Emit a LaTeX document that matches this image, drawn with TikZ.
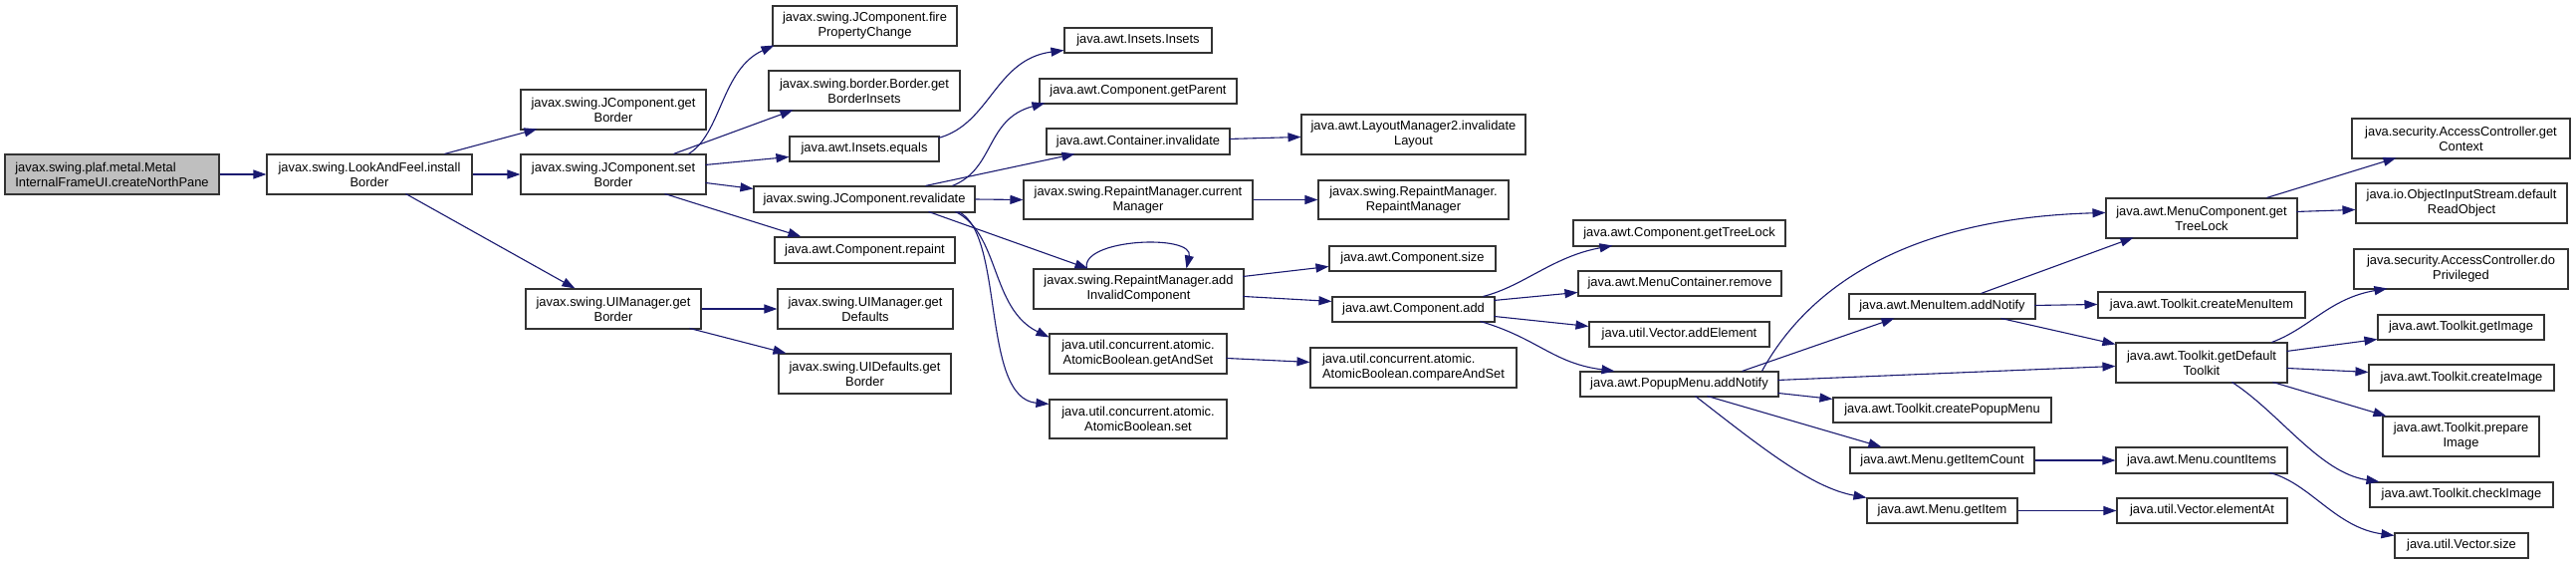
\documentclass[tikz,border=0pt]{standalone}
\usepackage{fontspec}
\setmainfont{Liberation Sans}
\usetikzlibrary{arrows.meta}
\definecolor{edgec}{HTML}{191970}
\definecolor{rootfill}{HTML}{BFBFBF}
\tikzset{
  nbox/.style={draw=black!80, line width=1.1pt, rectangle, inner sep=0pt, align=center,
    font=\fontsize{12.9}{15}\selectfont},
  callarrow/.style={draw=edgec, line width=1.1pt, -{Triangle[length=13pt,width=9pt]}},
}
\newcommand\mknode[7][]{\node[nbox,#1,minimum width={(#5)-(#3)},minimum height={(#6)-(#4)}] (#2) at ({((#3)+(#5))/2},{((#4)+(#6))/2}) {#7};}
\begin{document}
\begin{tikzpicture}[x=1pt,y=-1pt]
\fill[white] (0,0) rectangle (2587,566);
\useasboundingbox (0,0) rectangle (2587,566);

\mknode[fill=rootfill,align=left]{root}{5}{155}{220}{195}{javax.swing.plaf.metal.Metal\\InternalFrameUI.createNorthPane}
\mknode{inst}{268}{155}{474}{195}{javax.swing.LookAndFeel.install\\Border}
\mknode{jgb}{523}{90}{709}{130}{javax.swing.JComponent.get\\Border}
\mknode{jsb}{523}{155}{709}{195}{javax.swing.JComponent.set\\Border}
\mknode{uigb}{528}{290}{704}{330}{javax.swing.UIManager.get\\Border}
\mknode{fpc}{776}{6}{961}{46}{javax.swing.JComponent.fire\\PropertyChange}
\mknode{bgi}{772}{71}{964}{111}{javax.swing.border.Border.get\\BorderInsets}
\mknode{ieq}{793}{137}{943}{162}{java.awt.Insets.equals}
\mknode{rev}{757}{187}{979}{213}{javax.swing.JComponent.revalidate}
\mknode{crep}{778}{238}{959}{264}{java.awt.Component.repaint}
\mknode{uigd}{781}{290}{957}{330}{javax.swing.UIManager.get\\Defaults}
\mknode{uidgb}{782}{355}{955}{395}{javax.swing.UIDefaults.get\\Border}
\mknode{ins}{1069}{28}{1217}{53}{java.awt.Insets.Insets}
\mknode{gpar}{1044}{79}{1242}{104}{java.awt.Component.getParent}
\mknode{cinv}{1051}{129}{1235}{155}{java.awt.Container.invalidate}
\mknode{rmcm}{1028}{181}{1258}{220}{javax.swing.RepaintManager.current\\Manager}
\mknode{raic}{1038}{270}{1249}{310}{javax.swing.RepaintManager.add\\InvalidComponent}
\mknode{gas}{1054}{335}{1232}{375}{java.util.concurrent.atomic.\\AtomicBoolean.getAndSet}
\mknode{abset}{1054}{401}{1232}{440}{java.util.concurrent.atomic.\\AtomicBoolean.set}
\mknode{lm2}{1307}{115}{1532}{155}{java.awt.LayoutManager2.invalidate\\Layout}
\mknode{rmrm}{1324}{181}{1515}{220}{javax.swing.RepaintManager.\\RepaintManager}
\mknode{csize}{1335}{247}{1502}{272}{java.awt.Component.size}
\mknode{cadd}{1338}{298}{1501}{323}{java.awt.Component.add}
\mknode[align=left]{cas}{1316}{349}{1523}{389}{java.util.concurrent.atomic.\\AtomicBoolean.compareAndSet}
\mknode{gtl}{1580}{221}{1793}{247}{java.awt.Component.getTreeLock}
\mknode{mcr}{1585}{272}{1789}{297}{java.awt.MenuContainer.remove}
\mknode{vae}{1596}{323}{1777}{348}{java.util.Vector.addElement}
\mknode{pman}{1587}{373}{1786}{398}{java.awt.PopupMenu.addNotify}
\mknode{mian}{1857}{295}{2044}{320}{java.awt.MenuItem.addNotify}
\mknode{tcpm}{1841}{399}{2060}{424}{java.awt.Toolkit.createPopupMenu}
\mknode{mgic}{1858}{449}{2043}{475}{java.awt.Menu.getItemCount}
\mknode{mgi}{1875}{500}{2026}{525}{java.awt.Menu.getItem}
\mknode{mcgtl}{2115}{199}{2307}{239}{java.awt.MenuComponent.get\\TreeLock}
\mknode{tcmi}{2107}{293}{2315}{319}{java.awt.Toolkit.createMenuItem}
\mknode{tgdt}{2125}{344}{2297}{384}{java.awt.Toolkit.getDefault\\Toolkit}
\mknode{mci}{2125}{449}{2297}{475}{java.awt.Menu.countItems}
\mknode{vea}{2126}{500}{2297}{525}{java.util.Vector.elementAt}
\mknode{acgc}{2362}{119}{2581}{159}{java.security.AccessController.get\\Context}
\mknode{oisd}{2366}{184}{2578}{224}{java.io.ObjectInputStream.default\\ReadObject}
\mknode{acdp}{2364}{250}{2579}{290}{java.security.AccessController.do\\Privileged}
\mknode{tgi}{2388}{316}{2555}{341}{java.awt.Toolkit.getImage}
\mknode{tci}{2379}{366}{2565}{392}{java.awt.Toolkit.createImage}
\mknode{tpi}{2393}{418}{2550}{458}{java.awt.Toolkit.prepare\\Image}
\mknode{tchk}{2380}{484}{2564}{509}{java.awt.Toolkit.checkImage}
\mknode{vsz}{2405}{535}{2539}{560}{java.util.Vector.size}

% connectors
\draw[callarrow] (root.east) -- (inst.west);
\draw[callarrow] ([shift={(179,0)}]inst.north west) -- ([shift={(17,40)}]jgb.north west);
\draw[callarrow] (inst.east) -- (jsb.west);
\draw[callarrow] ([shift={(140,40)}]inst.north west) -- ([shift={(50,0)}]uigb.north west);
\draw[callarrow] (uigb.east) -- (uigd.west);
\draw[callarrow] ([shift={(165,40)}]uigb.north west) -- ([shift={(8,0)}]uidgb.north west);

\draw[callarrow] ([shift={(169,0)}]jsb.north west) .. controls +(33,-20) and +(-53,24) .. ([shift={(2,40)}]fpc.north west);
\draw[callarrow] ([shift={(154,0)}]jsb.north west) -- ([shift={(25,40)}]bgi.north west);
\draw[callarrow] ([shift={(186,11)}]jsb.north west) -- ([shift={(0,21)}]ieq.north west);
\draw[callarrow] ([shift={(186,29)}]jsb.north west) -- ([shift={(0,3)}]rev.north west);
\draw[callarrow] ([shift={(145,40)}]jsb.north west) -- ([shift={(27,0)}]crep.north west);

\draw[callarrow] ([shift={(150,2)}]ieq.north west) .. controls +(52,-14) and +(-69,9) .. ([shift={(0,23)}]ins.north west);

\draw[callarrow] ([shift={(200,0)}]rev.north west) .. controls +(43,-17) and +(-60,16) .. ([shift={(6,25)}]gpar.north west);
\draw[callarrow] ([shift={(173,0)}]rev.north west) -- ([shift={(29,26)}]cinv.north west);
\draw[callarrow] (rev.east) -- (rmcm.west);
\draw[callarrow] ([shift={(176,26)}]rev.north west) -- ([shift={(55,0)}]raic.north west);
\draw[callarrow] ([shift={(203,26)}]rev.north west) .. controls +(45,22) and +(-59,-29) .. ([shift={(0,4)}]gas.north west);
\draw[callarrow] ([shift={(206,26)}]rev.north west) .. controls +(47,22) and +(-69,-6) .. ([shift={(0,5)}]abset.north west);

\draw[callarrow] ([shift={(184,11)}]cinv.north west) -- ([shift={(0,23)}]lm2.north west);
\draw[callarrow] (rmcm.east) -- (rmrm.west);
\draw[callarrow] ([shift={(54,0)}]raic.north west) .. controls +(-7,-30) and +(8,-35) .. ([shift={(154,0)}]raic.north west);
\draw[callarrow] ([shift={(211,8)}]raic.north west) -- ([shift={(0,21)}]csize.north west);
\draw[callarrow] ([shift={(211,28)}]raic.north west) -- ([shift={(0,5)}]cadd.north west);
\draw[callarrow] ([shift={(178,25)}]gas.north west) -- ([shift={(0,15)}]cas.north west);

\draw[callarrow] ([shift={(152,0)}]cadd.north west) .. controls +(40,-10) and +(-60,11) .. ([shift={(40,26)}]gtl.north west);
\draw[callarrow] ([shift={(163,4)}]cadd.north west) -- ([shift={(0,22)}]mcr.north west);
\draw[callarrow] ([shift={(163,20)}]cadd.north west) -- ([shift={(0,5)}]vae.north west);
\draw[callarrow] ([shift={(149,25)}]cadd.north west) .. controls +(58,17) and +(-62,-8) .. ([shift={(35,0)}]pman.north west);

\draw[callarrow] ([shift={(183,0)}]pman.north west) .. controls +(40,-73) and +(-215,6) .. ([shift={(0,15)}]mcgtl.north west);
\draw[callarrow] ([shift={(163,0)}]pman.north west) -- ([shift={(46,25)}]mian.north west);
\draw[callarrow] ([shift={(199,9)}]pman.north west) -- ([shift={(0,24)}]tgdt.north west);
\draw[callarrow] ([shift={(199,22)}]pman.north west) -- ([shift={(0,2)}]tcpm.north west);
\draw[callarrow] ([shift={(128,25)}]pman.north west) -- ([shift={(32,0)}]mgic.north west);
\draw[callarrow] ([shift={(116,25)}]pman.north west) .. controls +(67,52) and +(-55,-10) .. ([shift={(0,0)}]mgi.north west);

\draw[callarrow] ([shift={(133,0)}]mian.north west) -- ([shift={(28,40)}]mcgtl.north west);
\draw[callarrow] ([shift={(187,12)}]mian.north west) -- ([shift={(0,13)}]tcmi.north west);
\draw[callarrow] ([shift={(153,25)}]mian.north west) -- ([shift={(0,2)}]tgdt.north west);
\draw[callarrow] (mgic.east) -- (mci.west);
\draw[callarrow] (mgi.east) -- (vea.west);

\draw[callarrow] ([shift={(162,0)}]mcgtl.north west) -- ([shift={(45,40)}]acgc.north west);
\draw[callarrow] ([shift={(192,14)}]mcgtl.north west) -- ([shift={(0,27)}]oisd.north west);

\draw[callarrow] ([shift={(157,0)}]tgdt.north west) .. controls +(38,-14) and +(-58,10) .. ([shift={(34,40)}]acdp.north west);
\draw[callarrow] ([shift={(172,9)}]tgdt.north west) -- ([shift={(0,25)}]tgi.north west);
\draw[callarrow] ([shift={(172,26)}]tgdt.north west) -- ([shift={(0,8)}]tci.north west);
\draw[callarrow] ([shift={(158,40)}]tgdt.north west) -- ([shift={(4,0)}]tpi.north west);
\draw[callarrow] ([shift={(117,40)}]tgdt.north west) .. controls +(48,31) and +(-60,-9) .. ([shift={(10,0)}]tchk.north west);
\draw[callarrow] ([shift={(155,26)}]mci.north west) .. controls +(40,10) and +(-59,-8) .. ([shift={(0,3)}]vsz.north west);
\end{tikzpicture}
\end{document}
